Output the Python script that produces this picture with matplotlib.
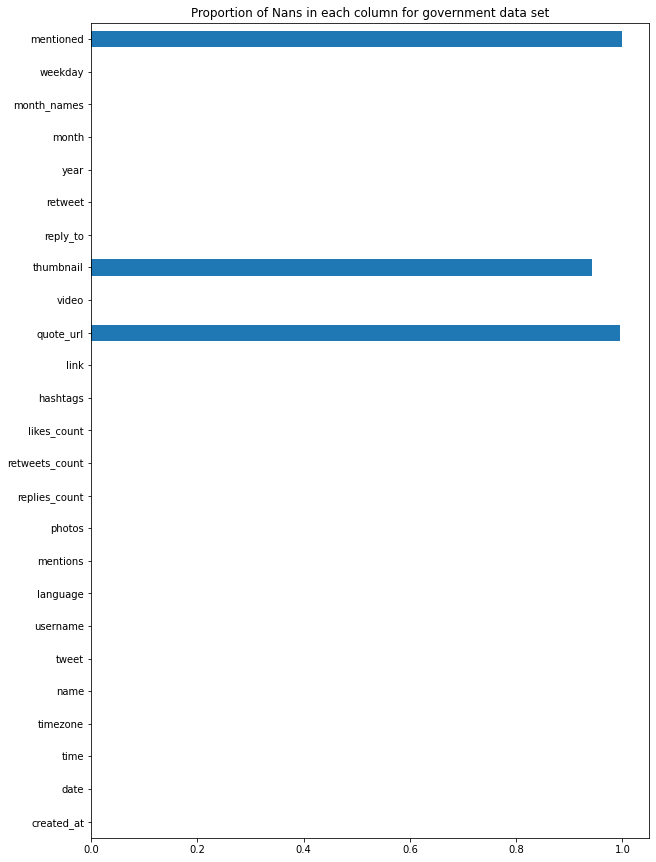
import matplotlib
matplotlib.use("Agg")
import matplotlib.pyplot as plt

# columns from bottom to top, as pandas barh draws them
columns = ['created_at', 'date', 'time', 'timezone', 'name', 'tweet', 'username',
           'language', 'mentions', 'photos', 'replies_count', 'retweets_count',
           'likes_count', 'hashtags', 'link', 'quote_url', 'video', 'thumbnail',
           'reply_to', 'retweet', 'year', 'month', 'month_names', 'weekday',
           'mentioned']
nan_prop = [0, 0, 0, 0, 0, 0, 0,
            0, 0, 0, 0, 0,
            0, 0, 0, 0.995, 0, 0.942,
            0, 0, 0, 0, 0, 0,
            1.0]

fig = plt.figure(figsize=(656 / 72, 862 / 72), dpi=72)
ax = fig.add_axes([91 / 656, 1 - 838 / 862, (649 - 91) / 656, (838 - 23) / 862])

pos = range(len(columns))
ax.barh(pos, nan_prop, height=0.5, color='#1f77b4')
ax.set_yticks(list(pos))
ax.set_yticklabels(columns)
ax.set_ylim(-0.5, len(columns) - 0.5)
ax.set_xlim(0, 1.05)
ax.set_title('Proportion of Nans in each column for government data set')

fig.savefig('out.png', dpi=72)
